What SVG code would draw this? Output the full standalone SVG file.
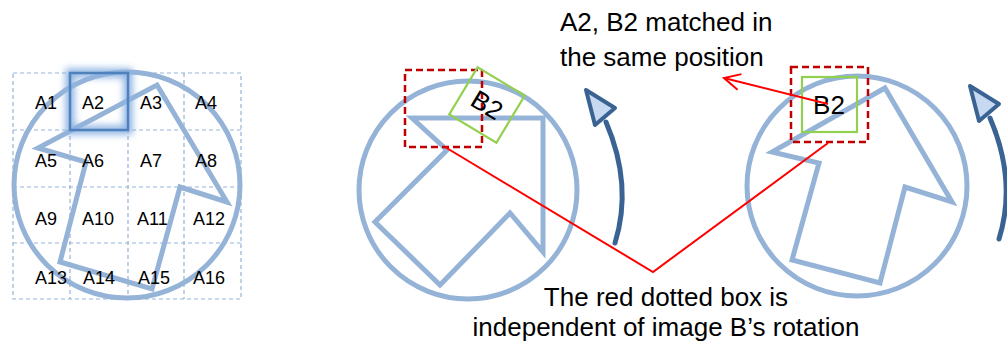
<svg xmlns="http://www.w3.org/2000/svg" width="1007" height="346" viewBox="0 0 1007 346">
<style>
  .grid{fill:none;stroke:#95b3d7;stroke-width:1.2;stroke-dasharray:4 3}
  .shape{fill:none;stroke:#95b3d7;stroke-width:5;stroke-linejoin:miter}
  .cell{font-family:"Liberation Sans",Arial,sans-serif;font-size:18px;fill:#000}
  .lbl{font-family:"Liberation Sans",Arial,sans-serif;font-size:26px;fill:#000}
  .redbox{fill:none;stroke:#c00000;stroke-width:2.5;stroke-dasharray:7 4}
  .greenbox{fill:none;stroke:#92d050;stroke-width:2.2}
  .conn{fill:none;stroke:#ff0000;stroke-width:2}
  .rot{fill:none;stroke:#3a6393;stroke-width:5;stroke-linecap:round}
  .rothead{fill:#c6d9f1;stroke:#3a6393;stroke-width:4;stroke-linejoin:round}
</style>
<defs>
  <filter id="glow" x="-50%" y="-50%" width="200%" height="200%">
    <feGaussianBlur stdDeviation="3.5"/>
  </filter>
  <marker id="open" markerUnits="userSpaceOnUse" markerWidth="20" markerHeight="20" viewBox="0 0 20 20" refX="18" refY="10" orient="auto">
    <path d="M2,2 L18,10 L2,18" fill="none" stroke="#ff0000" stroke-width="2"/>
  </marker>
  <g id="rotArrow">
    <path class="rot" d="M615,243 Q633,185 606,122"/>
    <polygon class="rothead" points="586,90 615,108 595,125"/>
  </g>
</defs>

<rect width="1007" height="346" fill="#ffffff"/>

<!-- Image A: 4x4 grid -->
<g id="imageA">
  <g id="gridA">
    <rect class="grid" x="13" y="73" width="228" height="226"/>
    <line class="grid" x1="70" y1="73" x2="70" y2="299"/>
    <line class="grid" x1="128" y1="73" x2="128" y2="299"/>
    <line class="grid" x1="184" y1="73" x2="184" y2="299"/>
    <line class="grid" x1="13" y1="130" x2="241" y2="130"/>
    <line class="grid" x1="13" y1="187" x2="241" y2="187"/>
    <line class="grid" x1="13" y1="243" x2="241" y2="243"/>
  </g>
  <circle class="shape" cx="127" cy="185" r="113"/>
  <polygon class="shape" points="157,85 227,202 180,187 152,289 60,262 86,162 38,148"/>
  <g id="A2-highlight">
    <rect x="70" y="73" width="58" height="57" fill="none" stroke="#8db3e2" stroke-width="9" filter="url(#glow)"/>
    <rect x="70" y="73" width="58" height="57" fill="none" stroke="#4f81bd" stroke-width="2.5"/>
  </g>
  <g id="cellLabels">
    <text class="cell" x="35" y="109">A1</text>
    <text class="cell" x="82" y="109">A2</text>
    <text class="cell" x="140" y="109">A3</text>
    <text class="cell" x="195" y="109">A4</text>
    <text class="cell" x="35" y="167">A5</text>
    <text class="cell" x="82" y="167">A6</text>
    <text class="cell" x="140" y="167">A7</text>
    <text class="cell" x="195" y="167">A8</text>
    <text class="cell" x="35" y="225">A9</text>
    <text class="cell" x="82" y="225">A10</text>
    <text class="cell" x="137" y="225">A11</text>
    <text class="cell" x="193" y="225">A12</text>
    <text class="cell" x="35" y="284">A13</text>
    <text class="cell" x="83" y="284">A14</text>
    <text class="cell" x="138" y="284">A15</text>
    <text class="cell" x="193" y="284">A16</text>
  </g>
</g>

<!-- Image B, first orientation -->
<g id="imageB1">
  <circle class="shape" cx="468" cy="190" r="109"/>
  <polygon class="shape" points="412,118 543,118 543,252 510,213 440,285 375,222 447,150"/>
  <rect class="redbox" x="405" y="70" width="77" height="77"/>
  <g transform="translate(487,105) rotate(31)">
    <rect class="greenbox" x="-27.5" y="-27.5" width="55" height="55"/>
    <text class="lbl" x="0" y="9" text-anchor="middle">B2</text>
  </g>
</g>

<!-- Image B, second orientation -->
<g id="imageB2">
  <circle class="shape" cx="857" cy="186" r="110"/>
  <polygon class="shape" points="885,88 952,202 905,187 880,283 792,260 819,163 772,152"/>
  <rect class="redbox" x="791" y="67" width="77" height="75"/>
  <rect class="greenbox" x="802" y="77" width="55" height="55"/>
  <text class="lbl" x="829" y="114" text-anchor="middle">B2</text>
</g>

<!-- Rotation arrows -->
<g id="rotation1"><use href="#rotArrow"/></g>
<g id="rotation2"><use href="#rotArrow" transform="translate(384,-4)"/></g>

<!-- Connectors -->
<g id="connectors">
  <polyline class="conn" points="445,147 653,272 828,143"/>
  <line class="conn" x1="828" y1="104" x2="724" y2="78" marker-end="url(#open)"/>
</g>

<!-- Annotations -->
<g id="note-top">
  <text class="lbl" x="560" y="31">A2, B2 matched in</text>
  <text class="lbl" x="560" y="66">the same position</text>
</g>
<g id="note-bottom">
  <text class="lbl" x="666" y="306" text-anchor="middle">The red dotted box is</text>
  <text class="lbl" x="666" y="336" text-anchor="middle">independent of image B’s rotation</text>
</g>
</svg>
